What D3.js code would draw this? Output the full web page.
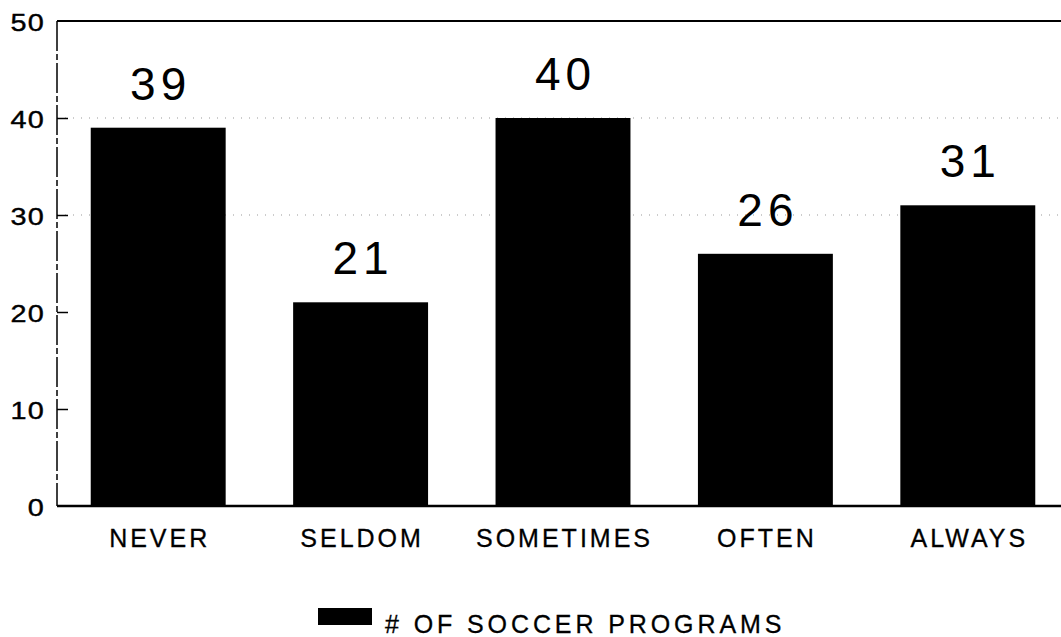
<!DOCTYPE html>
<html>
<head>
<meta charset="utf-8">
<script src="https://cdn.jsdelivr.net/npm/d3@7"></script>
<style>
  html, body { margin: 0; padding: 0; background: #fff; }
  svg { display: block; }
  text { font-family: "Liberation Sans", Arial, Helvetica, sans-serif; fill: #000; }
</style>
</head>
<body>
<svg id="chart" width="1061" height="637"></svg>
<script>
const categories = ["NEVER", "SELDOM", "SOMETIMES", "OFTEN", "ALWAYS"];
const values = [39, 21, 40, 26, 31];
const yTicks = [0, 10, 20, 30, 40, 50];
const gridValues = [30, 40];
const legendLabel = "# OF SOCCER PROGRAMS";

const svg = d3.select("#chart");
const plotLeft = 57, plotRight = 1069, plotTop = 21, plotBottom = 506;

const x = d3.scaleBand().domain(categories).range([plotLeft, plotRight])
  .paddingInner(1/3).paddingOuter(1/6);
const y = d3.scaleLinear().domain([0, 50]).range([plotBottom, plotTop]);

// gridlines (dotted)
svg.append("g").selectAll("line").data(gridValues).join("line")
  .attr("x1", plotLeft).attr("x2", 1061)
  .attr("y1", d => y(d)).attr("y2", d => y(d))
  .attr("stroke", "#999").attr("stroke-width", 1)
  .attr("stroke-dasharray", "1,7");

// bars
svg.append("g").selectAll("rect").data(values).join("rect")
  .attr("x", (d, i) => x(categories[i]))
  .attr("width", x.bandwidth())
  .attr("y", d => y(d))
  .attr("height", d => y(0) - y(d))
  .attr("fill", "#000");

// value labels
svg.append("g").selectAll("text").data(values).join("text")
  .attr("x", (d, i) => x(categories[i]) + x.bandwidth() / 2 + 2.5)
  .attr("y", d => y(d) - 28)
  .attr("text-anchor", "middle")
  .attr("font-size", 46)
  .attr("letter-spacing", 5)
  .text(d => d);

// top frame line
svg.append("line")
  .attr("x1", plotLeft).attr("x2", 1061)
  .attr("y1", y(50)).attr("y2", y(50))
  .attr("stroke", "#000").attr("stroke-width", 2);

// y axis
const yAxis = d3.axisLeft(y).tickValues(yTicks).tickSize(-11).tickPadding(0).tickFormat(d3.format("d"));
const yg = svg.append("g").attr("transform", `translate(${plotLeft},0)`).call(yAxis);
yg.select(".domain").remove();
yg.selectAll(".tick line").attr("stroke", "#000").attr("stroke-width", 1.5)
  .filter(d => d === 0 || d === 50).remove();
yg.selectAll(".tick text")
  .attr("x", 0).attr("dy", "0.36em")
  .attr("transform", "translate(-12,1) scale(1.2,1)")
  .attr("font-size", 24).attr("letter-spacing", 1)
  .attr("stroke", "#000").attr("stroke-width", 0.4)
  .attr("font-family", "\"Liberation Sans\", Arial, sans-serif")
  .attr("fill", "#000");
svg.append("line")
  .attr("x1", plotLeft).attr("x2", plotLeft)
  .attr("y1", y(50)).attr("y2", y(0))
  .attr("stroke", "#000").attr("stroke-width", 1.5)
  .attr("stroke-dasharray", "30,3,6,3");

// x axis
const xAxis = d3.axisBottom(x).tickSize(0).tickPadding(0);
const xg = svg.append("g").attr("transform", `translate(0,${plotBottom})`).call(xAxis);
xg.select(".domain").remove();
xg.selectAll(".tick text")
  .attr("y", 41).attr("dy", 0).attr("dx", 1.5)
  .attr("font-size", 25).attr("letter-spacing", 3)
  .attr("stroke", "#000").attr("stroke-width", 0.3)
  .attr("font-family", "\"Liberation Sans\", Arial, sans-serif")
  .attr("fill", "#000");
svg.append("line")
  .attr("x1", plotLeft).attr("x2", 1061)
  .attr("y1", y(0)).attr("y2", y(0))
  .attr("stroke", "#000").attr("stroke-width", 2.5);

// legend
const lg = svg.append("g");
lg.append("rect").attr("x", 318).attr("y", 608).attr("width", 54).attr("height", 17).attr("fill", "#000");
lg.append("text").attr("x", 385).attr("y", 633)
  .attr("font-size", 25).attr("letter-spacing", 3.9)
  .attr("stroke", "#000").attr("stroke-width", 0.3)
  .text(legendLabel);
</script>
</body>
</html>
